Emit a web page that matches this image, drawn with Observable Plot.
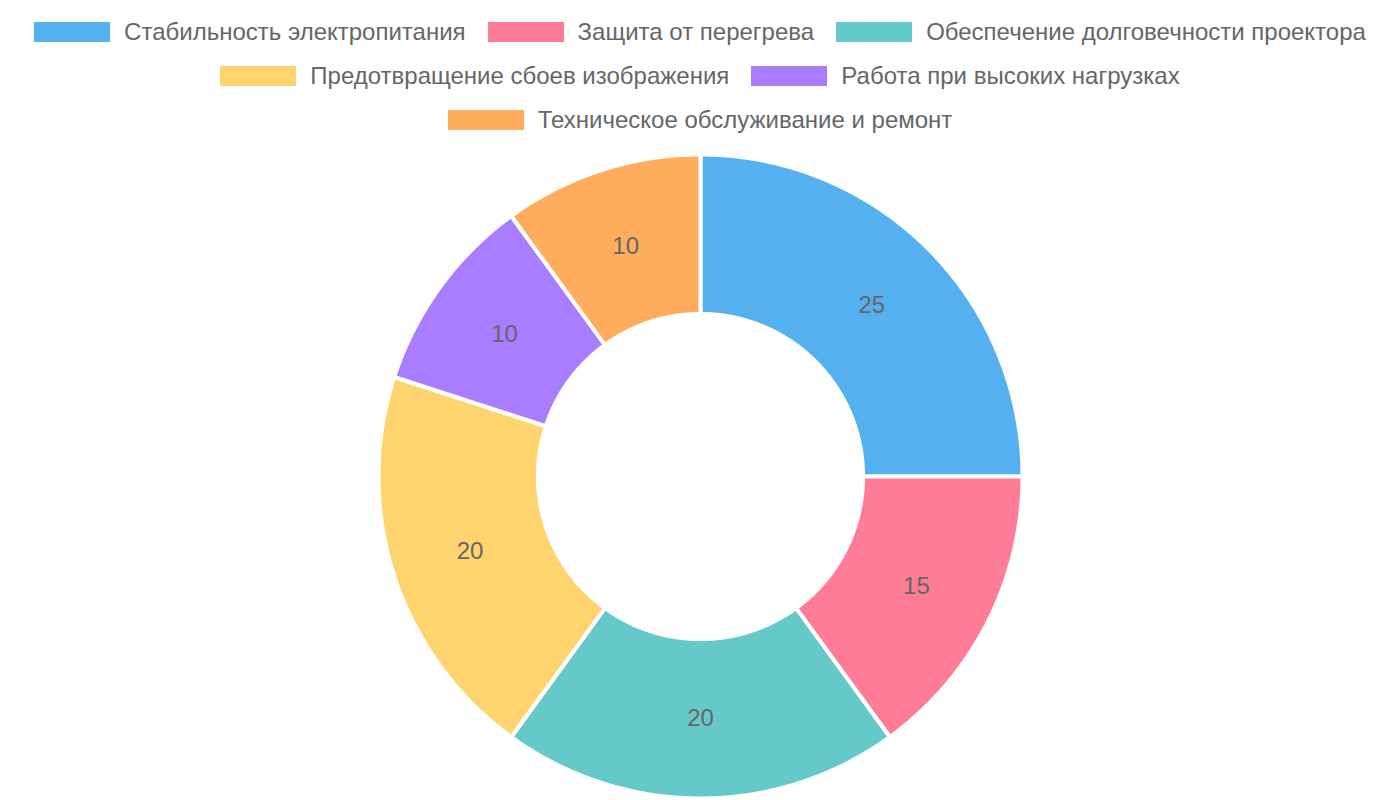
<!DOCTYPE html>
<html>
<head>
<meta charset="utf-8">
<script src="https://cdn.jsdelivr.net/npm/d3@7"></script>
<script src="https://cdn.jsdelivr.net/npm/@observablehq/plot@0.6"></script>
<style>
  html, body { margin: 0; padding: 0; background: #fff; }
  body { width: 1400px; height: 800px; overflow: hidden; font-family: "Liberation Sans", Arial, sans-serif; }
  #legend { display: flex; flex-wrap: wrap; justify-content: center; width: 1400px; padding-top: 10px; box-sizing: border-box; height: 140px; align-content: flex-start; }
  .item { display: flex; align-items: center; height: 44px; margin: 0 11px; color: #666; font-size: 24px; }
  .sw { width: 76px; height: 20px; margin-right: 14px; }
  #chart svg { display: block; }
</style>
</head>
<body>
<div id="legend"></div>
<div id="chart"></div>
<script>
const categories = [
  "Стабильность электропитания",
  "Защита от перегрева",
  "Обеспечение долговечности проектора",
  "Предотвращение сбоев изображения",
  "Работа при высоких нагрузках",
  "Техническое обслуживание и ремонт"
];
const values = [25, 15, 20, 20, 10, 10];
const colors = ["#54B0EE", "#FF7C96", "#66C9C9", "#FFD46F", "#A87DFF", "#FFAD5D"];

// Legend
const legend = document.getElementById("legend");
categories.forEach((c, i) => {
  const it = document.createElement("div");
  it.className = "item";
  it.innerHTML = `<span class="sw" style="background:${colors[i]}"></span><span>${c}</span>`;
  legend.appendChild(it);
});

// Doughnut geometry from values (angles via d3.pie, clockwise from top)
const rOuter = 1.0, rInner = 0.505;
const pie = d3.pie().sort(null).value(d => d.value)(categories.map((c, i) => ({cat: c, value: values[i]})));
const pts = [];
const labels = [];
pie.forEach(p => {
  const n = Math.max(8, Math.ceil((p.endAngle - p.startAngle) / 0.01));
  const ring = [];
  for (let k = 0; k <= n; k++) {
    const a = p.startAngle + (p.endAngle - p.startAngle) * k / n;
    ring.push([rOuter * Math.sin(a), rOuter * Math.cos(a)]);
  }
  for (let k = n; k >= 0; k--) {
    const a = p.startAngle + (p.endAngle - p.startAngle) * k / n;
    ring.push([rInner * Math.sin(a), rInner * Math.cos(a)]);
  }
  ring.push(ring[0]);
  ring.forEach(([x, y]) => pts.push({cat: p.data.cat, x, y}));
  const m = (p.startAngle + p.endAngle) / 2, rm = (rOuter + rInner) / 2;
  labels.push({cat: p.data.cat, value: p.data.value, x: rm * Math.sin(m), y: rm * Math.cos(m)});
});

const R = 322;
const cx = 700, cyS = 336, H = 660;
const chart = Plot.plot({
  width: 1400,
  height: H,
  marginLeft: cx - R,
  marginRight: 1400 - cx - R,
  marginTop: cyS - R,
  marginBottom: H - cyS - R,
  x: {domain: [-1, 1], axis: null},
  y: {domain: [-1, 1], axis: null},
  color: {domain: categories, range: colors},
  style: {fontFamily: "Liberation Sans, Arial, sans-serif", background: "transparent"},
  marks: [
    Plot.line(pts, {x: "x", y: "y", z: "cat", fill: "cat", stroke: "white", strokeWidth: 4, curve: "linear-closed"}),
    Plot.text(labels, {x: "x", y: "y", text: d => String(d.value), fill: "#666", fontSize: 24})
  ]
});
document.getElementById("chart").appendChild(chart);
</script>
</body>
</html>
